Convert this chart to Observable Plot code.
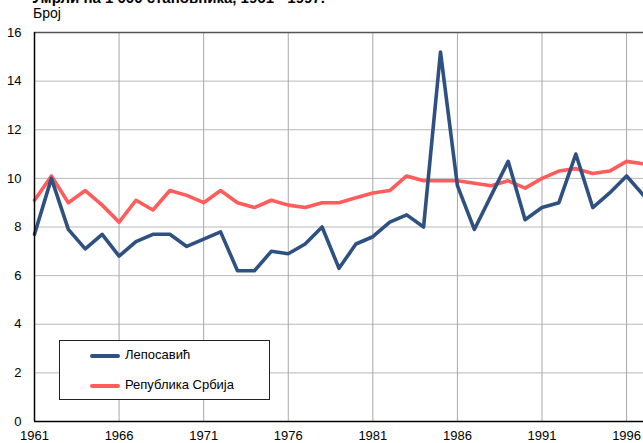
<!DOCTYPE html>
<html>
<head>
<meta charset="utf-8">
<script src="https://cdn.jsdelivr.net/npm/d3@7"></script>
<script src="https://cdn.jsdelivr.net/npm/@observablehq/plot@0.6"></script>
<style>
  html, body { margin: 0; padding: 0; background: #fff; }
  #wrap { position: relative; width: 643px; height: 443px; overflow: hidden; font-family: "Liberation Sans", Arial, sans-serif; }
  #title { position: absolute; left: 32px; top: -11px; font-weight: bold; font-size: 15px; color: #000; white-space: nowrap; }
  #ylab { position: absolute; left: 33px; top: 5px; font-size: 14px; color: #000; }
  #legend { position: absolute; left: 59px; top: 340px; width: 211px; height: 60px; border: 1px solid #222; background: #fff; box-sizing: border-box; }
  .li { position: absolute; left: 30px; height: 20px; font-size: 13px; color: #000; }
  .li .sw { position: absolute; left: 0; top: 8px; width: 30px; height: 4px; border-radius: 2px; }
  .li .tx { position: absolute; left: 35px; top: 1px; white-space: nowrap; }
  #chart { position: absolute; left: 0; top: 0; }
</style>
</head>
<body>
<div id="wrap">
  <div id="chart"></div>
  <div id="title">Умрли на 1 000 становника, 1961 - 1997.</div>
  <div id="ylab">Број</div>
  <div id="legend">
    <div class="li" style="top:5px"><div class="sw" style="background:#2f5181"></div><div class="tx">Лепосавић</div></div>
    <div class="li" style="top:35px"><div class="sw" style="background:#ff5c5c"></div><div class="tx">Република Србија</div></div>
  </div>
</div>
<script>
const years = d3.range(1961, 1998);
const leposavic = [7.7, 10.0, 7.9, 7.1, 7.7, 6.8, 7.4, 7.7, 7.7, 7.2, 7.5, 7.8, 6.2, 6.2, 7.0, 6.9, 7.3, 8.0, 6.3, 7.3, 7.6, 8.2, 8.5, 8.0, 15.2, 9.7, 7.9, 9.3, 10.7, 8.3, 8.8, 9.0, 11.0, 8.8, 9.4, 10.1, 9.3];
const srbija = [9.1, 10.1, 9.0, 9.5, 8.9, 8.2, 9.1, 8.7, 9.5, 9.3, 9.0, 9.5, 9.0, 8.8, 9.1, 8.9, 8.8, 9.0, 9.0, 9.2, 9.4, 9.5, 10.1, 9.9, 9.9, 9.9, 9.8, 9.7, 9.9, 9.6, 10.0, 10.3, 10.4, 10.2, 10.3, 10.7, 10.6];
const xTicks = [1961, 1966, 1971, 1976, 1981, 1986, 1991, 1996];
const yTicks = [0, 2, 4, 6, 8, 10, 12, 14, 16];
const seriesNames = ["Лепосавић", "Република Србија"];

const rows = [];
years.forEach((y, i) => {
  rows.push({year: y, value: leposavic[i], series: seriesNames[0]});
  rows.push({year: y, value: srbija[i], series: seriesNames[1]});
});

const chart = Plot.plot({
  width: 643,
  height: 443,
  marginLeft: 34,
  marginRight: 0,
  marginTop: 32,
  marginBottom: 22,
  style: {fontFamily: "'Liberation Sans', Arial, sans-serif", fontSize: "13px", color: "#000", background: "#fff"},
  x: {domain: [1961, 1997], ticks: xTicks, tickFormat: d => String(d), label: null, tickSize: 0, tickPadding: 9},
  y: {domain: [0, 16], ticks: yTicks, label: null, tickSize: 0, tickPadding: 13},
  marks: [
    Plot.gridY(yTicks, {stroke: "#b8b8b8", strokeOpacity: 1, strokeWidth: 1}),
    Plot.gridX(xTicks, {stroke: "#a8a8a8", strokeOpacity: 1, strokeWidth: 1}),
    Plot.ruleY([16], {stroke: "#555", strokeWidth: 1.5}),
    Plot.line(rows.filter(d => d.series === seriesNames[1]), {x: "year", y: "value", stroke: "#ff5c5c", strokeWidth: 3.6}),
    Plot.line(rows.filter(d => d.series === seriesNames[0]), {x: "year", y: "value", stroke: "#2f5181", strokeWidth: 3.6}),
    Plot.ruleY([0], {stroke: "#000", strokeWidth: 1.5}),
    Plot.ruleX([1961], {stroke: "#000", strokeWidth: 1.5}),
    Plot.axisX({ticks: xTicks, tickFormat: d => String(d), tickSize: 0, tickPadding: 9, label: null}),
    Plot.axisY({ticks: yTicks, tickSize: 0, tickPadding: 13, label: null})
  ]
});
document.getElementById("chart").appendChild(chart);
</script>
</body>
</html>
